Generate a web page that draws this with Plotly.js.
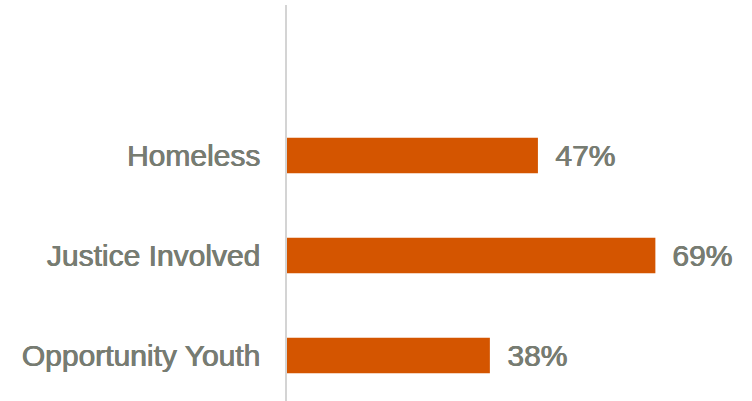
<!DOCTYPE html>
<html><head><meta charset="utf-8">
<script src="https://cdn.plot.ly/plotly-3.0.1.min.js"></script>
<style>html,body{margin:0;padding:0;background:#fff;}#chart{width:752px;height:401px;}</style>
</head><body><div id="chart"></div>
<script>
const categories = ["Opportunity Youth", "Justice Involved", "Homeless"];
const values = [38, 69, 47];
const valueLabels = ["38%", "69%", "47%"];

const textColor = "#777c72";
const barColor = "#d45500";
const textShadow = "0.8px 0 0 #777c72, 0.4px 0 0 #777c72";

const trace = {
  type: "bar",
  orientation: "h",
  y: categories,
  x: values,
  width: 0.356,
  marker: {color: barColor},
  hoverinfo: "none"
};

const annotations = categories.map((c, i) => ({
  x: values[i], y: c, xref: "x", yref: "y",
  text: valueLabels[i], showarrow: false,
  xanchor: "left", yanchor: "middle", xshift: 15,
  font: {family: "Liberation Sans, Arial, sans-serif", size: 30, color: textColor, shadow: textShadow}
}));

const layout = {
  width: 752, height: 401,
  margin: {l: 287, r: 0, t: 5, b: 0, pad: 0},
  paper_bgcolor: "#ffffff", plot_bgcolor: "#ffffff",
  showlegend: false,
  xaxis: {range: [0, 87.1], visible: false, fixedrange: true},
  yaxis: {
    type: "category",
    range: [-0.455, 3.505],
    showline: true, linecolor: "#d4d4d4", linewidth: 2,
    showgrid: false, zeroline: false, ticks: "",
    ticklabelstandoff: 19,
    tickfont: {family: "Liberation Sans, Arial, sans-serif", size: 30, color: textColor, shadow: textShadow},
    fixedrange: true
  },
  annotations: annotations
};

Plotly.newPlot("chart", [trace], layout, {displayModeBar: false, staticPlot: true});
</script>
</body></html>
